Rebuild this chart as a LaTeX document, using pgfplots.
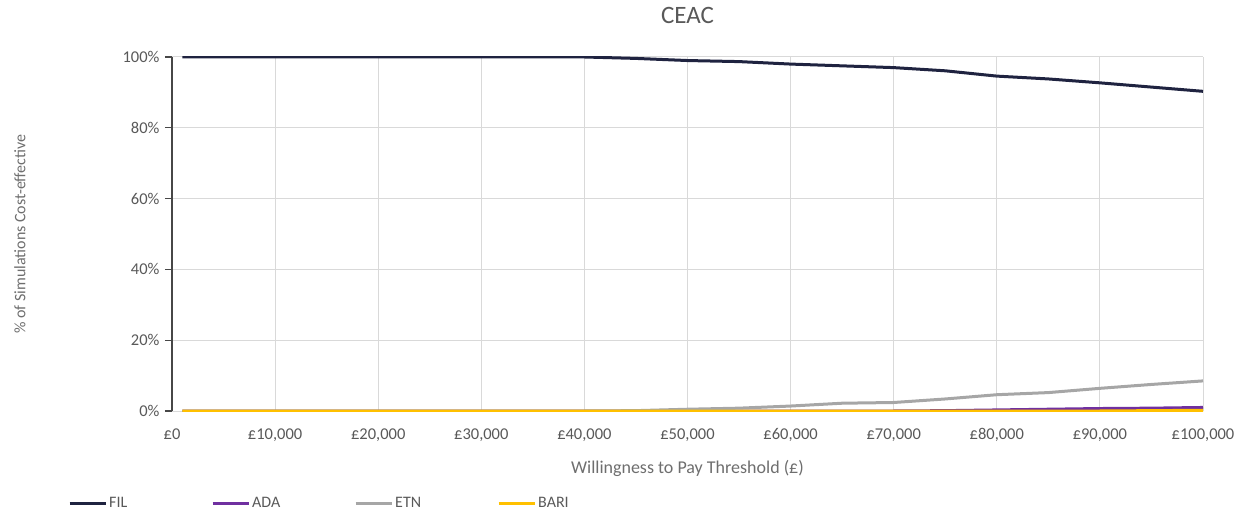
\documentclass[border=0pt]{standalone}
\usepackage{fontspec}
\setmainfont{Carlito}
\usepackage{pgfplots}
\pgfplotsset{compat=1.18}
\usepackage{pgfplotstable}
\definecolor{txtgray}{HTML}{595959}
\definecolor{lblgray}{HTML}{6E6E6E}
\definecolor{gridgray}{HTML}{D9D9D9}
\definecolor{filcol}{HTML}{1F2340}
\definecolor{adacol}{HTML}{7030A0}
\definecolor{etncol}{HTML}{A6A6A6}
\definecolor{baricol}{HTML}{FFC000}

% willingness to pay, % cost-effective
\pgfplotstableread{
wtp    fil    ada   etn   bari
1000   100    0     0     0
5000   100    0     0     0
10000  100    0     0     0
15000  100    0     0     0
20000  100    0     0     0
25000  100    0     0     0
30000  100    0     0     0
35000  100    0     0     0
40000  100    0     0     0
45000  99.6   0     0.1   0
50000  99.0   0     0.5   0
55000  98.7   0     0.8   0
60000  98.0   0     1.4   0
65000  97.5   0     2.2   0
70000  97.0   0     2.4   0
75000  96.1   0.1   3.4   0
80000  94.6   0.3   4.6   0
85000  93.8   0.5   5.2   0
90000  92.7   0.7   6.4   0
95000  91.5   0.8   7.5   0.1
100000 90.3   1.0   8.5   0.2
}\ceac

\begin{document}
\begin{tikzpicture}
\useasboundingbox (-172pt,-102pt) rectangle (1066pt,411pt);
\begin{axis}[
  at={(0,0)}, anchor=south west,
  scale only axis,
  width=1031pt, height=354pt,
  xmin=0, xmax=100000, ymin=0, ymax=100,
  font=\fontsize{16.5}{19}\selectfont,
  every tick label/.append style={text=txtgray},
  /pgf/number format/assume math mode=true,
  xtick={0,10000,...,100000},
  xticklabels={£0,£10{,}000,£20{,}000,£30{,}000,£40{,}000,£50{,}000,£60{,}000,£70{,}000,£80{,}000,£90{,}000,£100{,}000},
  ytick={0,20,...,100},
  yticklabels={0\%,20\%,40\%,60\%,80\%,100\%},
  scaled x ticks=false,
  grid=major,
  major grid style={gridgray, line width=1pt},
  axis x line*=bottom, axis y line*=left,
  x axis line style={draw=none},
  y axis line style={draw=txtgray!80!black, line width=1.2pt, -},
  xtick style={draw=none},
  ytick style={draw=txtgray!80!black, line width=1.2pt},
  tick align=outside, major tick length=7pt,
  xticklabel style={yshift=-7pt},
  yticklabel style={xshift=-2pt},
  title={CEAC},
  title style={text=txtgray, font=\fontsize{25}{28}\selectfont, at={(0.5,1)}, anchor=base, yshift=27pt},
  xlabel={Willingness to Pay Threshold (£)},
  xlabel style={text=lblgray, font=\fontsize{18}{20}\selectfont, at={(0.5,0)}, anchor=center, yshift=-57pt},
  ylabel={\% of Simulations Cost-effective},
  ylabel style={text=lblgray, font=\fontsize{16}{18}\selectfont, at={(0,0.5)}, anchor=center, yshift=152pt},
  legend columns=4,
  legend style={draw=none, fill=none, at={(0,0)}, anchor=west, xshift=-104pt, yshift=-92pt,
    font=\fontsize{16}{18}\selectfont, text=txtgray, inner sep=0pt,
    /tikz/every even column/.append style={column sep=0pt}},
  legend image code/.code={\draw[#1, line width=3pt] (0pt,0pt) -- (36pt,0pt);},
  legend cell align=left,
]
\addplot[filcol, line width=3pt] table[x=wtp, y=fil] {\ceac};
\addlegendentry{\makebox[100pt][l]{FIL}}
\addplot[adacol, line width=3pt] table[x=wtp, y=ada] {\ceac};
\addlegendentry{\makebox[100pt][l]{ADA}}
\addplot[etncol, line width=3pt] table[x=wtp, y=etn] {\ceac};
\addlegendentry{\makebox[100pt][l]{ETN}}
\addplot[baricol, line width=3pt] table[x=wtp, y=bari] {\ceac};
\addlegendentry{\makebox[60pt][l]{BARI}}
\end{axis}
\end{tikzpicture}
\end{document}
